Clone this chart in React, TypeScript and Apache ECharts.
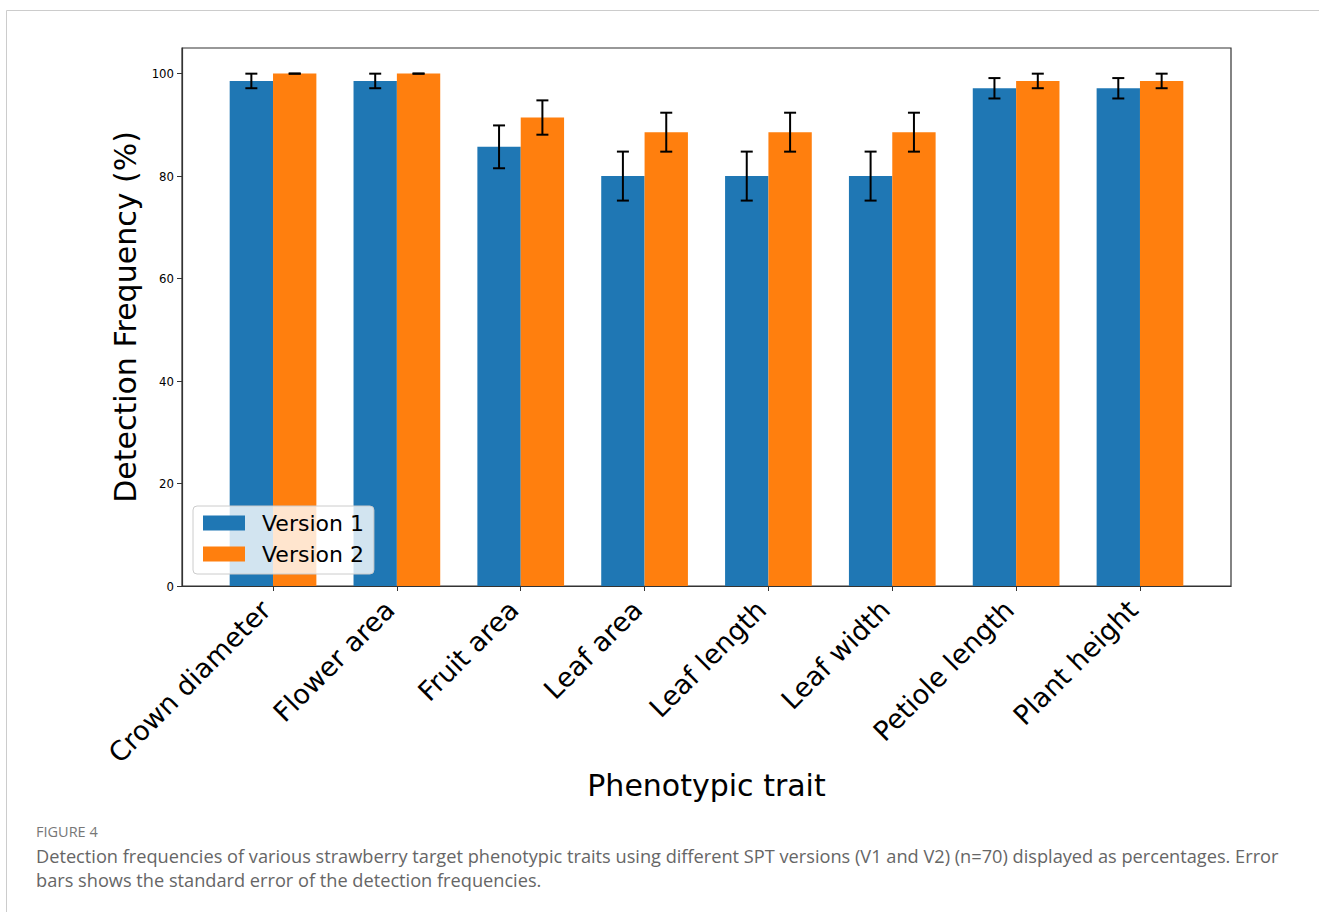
import React, { useEffect, useRef } from "react";
import * as echarts from "echarts";

// Phenotypic traits measured by the two SPT versions (n = 70)
const traits = [
  "Crown diameter",
  "Flower area",
  "Fruit area",
  "Leaf area",
  "Leaf length",
  "Leaf width",
  "Petiole length",
  "Plant height",
];

// Detection frequency (%) per version
const version1 = [98.57, 98.57, 85.71, 80.0, 80.0, 80.0, 97.14, 97.14];
const version2 = [100.0, 100.0, 91.43, 88.57, 88.57, 88.57, 98.57, 98.57];

// Standard error of the detection frequency (%)
const version1Err = [1.42, 1.42, 4.18, 4.78, 4.78, 4.78, 1.99, 1.99];
const version2Err = [0.0, 0.0, 3.35, 3.8, 3.8, 3.8, 1.42, 1.42];

const yTicks = [0, 20, 40, 60, 80, 100];
const xTicks = traits.map((_, i) => i);

const BLUE = "#1f77b4";
const ORANGE = "#ff7f0e";
const BAR_W = 0.35;
const AXIS_FONT = "'DejaVu Sans', sans-serif";
const TICK_FONT = "'DejaVu Sans Condensed', 'DejaVu Sans', sans-serif";
const CAPTION_FONT = "'Open Sans', 'Noto Sans', sans-serif";

function barSeries(name: string, values: number[], offset: number, color: string) {
  return {
    type: "custom",
    name,
    z: 2,
    itemStyle: { color },
    encode: { x: 0, y: 1 },
    data: values.map((v, i) => [i, v]),
    renderItem: (_params: any, api: any) => {
      const i = api.value(0);
      const v = api.value(1);
      const top = api.coord([i + offset, v]);
      const base = api.coord([i + offset + BAR_W, 0]);
      return {
        type: "rect",
        shape: {
          x: top[0],
          y: top[1],
          width: base[0] - top[0],
          height: base[1] - top[1],
        },
        style: { fill: color },
      };
    },
  };
}

function errorSeries(name: string, values: number[], errs: number[], offset: number) {
  return {
    type: "custom",
    name,
    z: 3,
    silent: true,
    encode: { x: 0, y: [1, 2] },
    data: values.map((v, i) => [i, v - errs[i], v + errs[i]]),
    renderItem: (_params: any, api: any) => {
      const x = api.value(0) + offset + BAR_W / 2;
      const lo = api.coord([x, api.value(1)]);
      const hi = api.coord([x, api.value(2)]);
      const cap = 6;
      const style = { stroke: "#000", lineWidth: 2 };
      return {
        type: "group",
        children: [
          { type: "line", shape: { x1: lo[0], y1: lo[1], x2: hi[0], y2: hi[1] }, style },
          { type: "line", shape: { x1: hi[0] - cap, y1: hi[1], x2: hi[0] + cap, y2: hi[1] }, style },
          { type: "line", shape: { x1: lo[0] - cap, y1: lo[1], x2: lo[0] + cap, y2: lo[1] }, style },
        ],
      };
    },
  };
}

export default function App() {
  const ref = useRef<HTMLDivElement>(null);

  useEffect(() => {
    if (!ref.current) return;
    const chart = echarts.init(ref.current, null, { renderer: "svg" });

    chart.setOption({
      animation: false,
      backgroundColor: "#fff",
      grid: {
        left: 182,
        right: 88,
        top: 48,
        bottom: 326,
        show: true,
        borderColor: "#333",
        borderWidth: 1.2,
        backgroundColor: "#fff",
      },
      legend: {
        orient: "vertical",
        left: 193,
        top: 506,
        data: [
          { name: "Version 1", icon: "rect", itemStyle: { color: BLUE } },
          { name: "Version 2", icon: "rect", itemStyle: { color: ORANGE } },
        ],
        itemWidth: 42,
        itemHeight: 15,
        itemGap: 9,
        padding: [6, 10, 9, 10],
        backgroundColor: "rgba(255,255,255,0.8)",
        borderColor: "#ccc",
        borderWidth: 1,
        borderRadius: 4,
        z: 6,
        textStyle: {
          fontFamily: AXIS_FONT,
          fontSize: 22,
          lineHeight: 21,
          color: "#000",
          padding: [0, 0, 0, 12],
        },
      },
      xAxis: {
        type: "value",
        min: -0.735,
        max: 7.735,
        name: "Phenotypic trait",
        nameLocation: "middle",
        nameGap: 184,
        nameMoveOverlap: false,
        nameTextStyle: { fontFamily: AXIS_FONT, fontSize: 30, color: "#000" },
        axisLine: { show: true, onZero: false, lineStyle: { color: "#333", width: 1.2 } },
        axisTick: { show: true, length: 5, customValues: xTicks, lineStyle: { color: "#333" } },
        axisLabel: {
          customValues: xTicks,
          rotate: 45,
          margin: 12,
          padding: [0, 10, 0, 0],
          fontFamily: AXIS_FONT,
          fontSize: 27,
          color: "#000",
          formatter: (v: number) => traits[Math.round(v)] ?? "",
        },
        splitLine: { show: false },
      },
      yAxis: {
        type: "value",
        min: 0,
        max: 105,
        interval: 20,
        name: "Detection Frequency (%)",
        nameLocation: "middle",
        nameGap: 42,
        nameTextStyle: { fontFamily: AXIS_FONT, fontSize: 30, color: "#000" },
        axisLine: { show: true, onZero: false, lineStyle: { color: "#333", width: 1.2 } },
        axisTick: { show: true, length: 5, customValues: yTicks, lineStyle: { color: "#333" } },
        axisLabel: {
          customValues: yTicks,
          margin: 8,
          fontFamily: TICK_FONT,
          fontSize: 13,
          color: "#000",
        },
        splitLine: { show: false },
      },
      series: [
        barSeries("Version 1", version1, -BAR_W, BLUE),
        barSeries("Version 2", version2, 0, ORANGE),
        errorSeries("Version 1 error", version1, version1Err, -BAR_W),
        errorSeries("Version 2 error", version2, version2Err, 0),
      ],
      graphic: [
        {
          type: "rect",
          silent: true,
          z: 0,
          shape: { x: 6.5, y: 10.5, width: 1400, height: 1000 },
          style: { fill: "none", stroke: "#ccc", lineWidth: 1 },
        },
        {
          type: "text",
          left: 36,
          top: 824,
          style: {
            text: "FIGURE 4",
            font: `14.5px ${CAPTION_FONT}`,
            fill: "#777",
          },
        },
        {
          type: "text",
          left: 36,
          top: 844,
          style: {
            text:
              "Detection frequencies of various strawberry target phenotypic traits using different SPT versions (V1 and V2) (n=70) displayed as percentages. Error\nbars shows the standard error of the detection frequencies.",
            font: `18.2px ${CAPTION_FONT}`,
            lineHeight: 24,
            fill: "#666",
          },
        },
      ],
    });

    return () => chart.dispose();
  }, []);

  return (
    <div
      ref={ref}
      style={{ position: "absolute", left: 0, top: 0, width: 1319, height: 912 }}
    />
  );
}
